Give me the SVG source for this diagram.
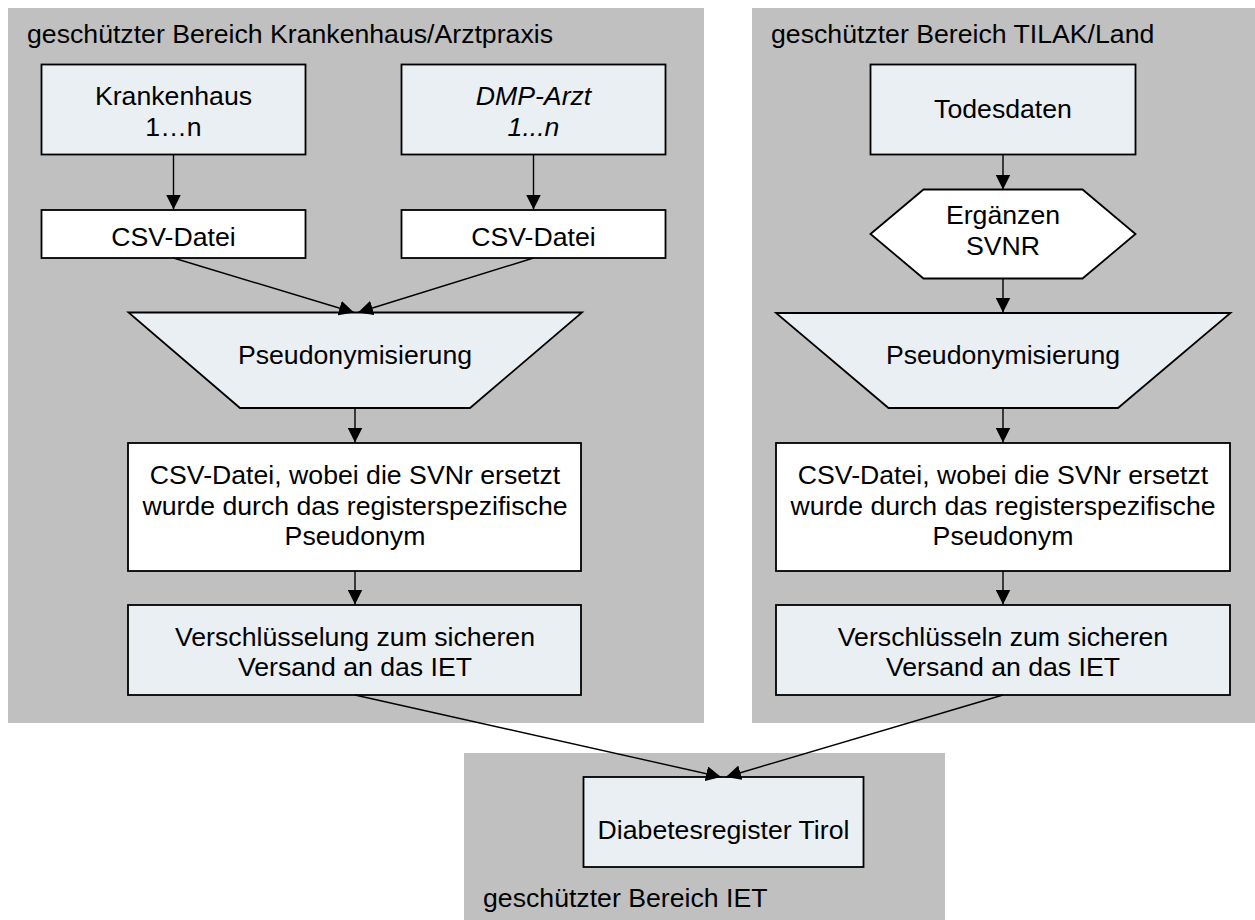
<svg xmlns="http://www.w3.org/2000/svg" width="1255" height="920" viewBox="0 0 1255 920">
<style>
.panel{fill:#c0c0c0;stroke:none}
.lt{fill:#eaeff3;stroke:#000;stroke-width:1.8}
.wh{fill:#ffffff;stroke:#000;stroke-width:1.8}
text{font-family:"Liberation Sans",Arial,sans-serif;font-size:26.67px;fill:#000}
.c{text-anchor:middle}
.it{font-style:italic}
.con line{stroke:#000;stroke-width:1.4;marker-end:url(#ah)}
</style>
<defs>
<marker id="ah" markerUnits="userSpaceOnUse" markerWidth="15" markerHeight="15" viewBox="0 0 15 15" refX="15" refY="7.5" orient="auto">
<path d="M0,0 L15,7.5 L0,15 z" fill="#000"/>
</marker>
</defs>
<g id="panel-krankenhaus">
<rect class="panel" x="8" y="8" width="696" height="715"/>
<text x="27" y="43">geschützter Bereich Krankenhaus/Arztpraxis</text>
</g>
<g id="panel-tilak">
<rect class="panel" x="752" y="8" width="503" height="715"/>
<text x="771" y="43">geschützter Bereich TILAK/Land</text>
</g>
<g id="panel-iet">
<rect class="panel" x="464" y="753" width="481" height="167"/>
<text x="483" y="907">geschützter Bereich IET</text>
</g>
<g id="krankenhaus">
<rect class="lt" x="41.5" y="64.5" width="264" height="90"/>
<text class="c" x="173.5" y="105">Krankenhaus</text>
<text class="c" x="173.5" y="136">1…n</text>
</g>
<g id="dmp-arzt">
<rect class="lt" x="401.5" y="64.5" width="264" height="90"/>
<text class="c it" x="533.5" y="105">DMP-Arzt</text>
<text class="c it" x="533.5" y="136">1...n</text>
</g>
<g id="csv-1">
<rect class="wh" x="41.5" y="210" width="264" height="48"/>
<text class="c" x="173.5" y="246">CSV-Datei</text>
</g>
<g id="csv-2">
<rect class="wh" x="401.5" y="210" width="264" height="48"/>
<text class="c" x="533.5" y="246">CSV-Datei</text>
</g>
<g id="pseudo-left">
<polygon class="lt" points="128.5,312.5 582,312.5 470,408 240,408"/>
<text class="c" x="355" y="364">Pseudonymisierung</text>
</g>
<g id="csv-pseudonym-left">
<rect class="wh" x="128" y="443" width="453" height="128"/>
<text class="c" x="355" y="483.5">CSV-Datei, wobei die SVNr ersetzt</text>
<text class="c" x="355" y="514.5">wurde durch das registerspezifische</text>
<text class="c" x="355" y="545">Pseudonym</text>
</g>
<g id="verschl-left">
<rect class="lt" x="128" y="605" width="453" height="90"/>
<text class="c" x="355" y="646">Verschlüsselung zum sicheren</text>
<text class="c" x="355" y="676">Versand an das IET</text>
</g>
<g id="todesdaten">
<rect class="lt" x="870.5" y="64.5" width="265" height="90"/>
<text class="c" x="1003" y="118">Todesdaten</text>
</g>
<g id="ergaenzen">
<polygon class="wh" points="870.5,234 923.5,189.5 1082.5,189.5 1135.5,234 1082.5,278.5 923.5,278.5"/>
<text class="c" x="1003" y="224">Ergänzen</text>
<text class="c" x="1003" y="255">SVNR</text>
</g>
<g id="pseudo-right">
<polygon class="lt" points="776,313 1230.5,313 1118,408 888.5,408"/>
<text class="c" x="1003" y="364">Pseudonymisierung</text>
</g>
<g id="csv-pseudonym-right">
<rect class="wh" x="776" y="443" width="454" height="128"/>
<text class="c" x="1003" y="483.5">CSV-Datei, wobei die SVNr ersetzt</text>
<text class="c" x="1003" y="514.5">wurde durch das registerspezifische</text>
<text class="c" x="1003" y="545">Pseudonym</text>
</g>
<g id="verschl-right">
<rect class="lt" x="776" y="605" width="454" height="90"/>
<text class="c" x="1003" y="646">Verschlüsseln zum sicheren</text>
<text class="c" x="1003" y="676">Versand an das IET</text>
</g>
<g id="diabetesregister">
<rect class="lt" x="583.5" y="777" width="280" height="90"/>
<text class="c" x="723.5" y="839">Diabetesregister Tirol</text>
</g>
<g id="connectors" class="con">
<line x1="173.5" y1="155" x2="173.5" y2="209.5"/>
<line x1="533.5" y1="155" x2="533.5" y2="209.5"/>
<line x1="173.5" y1="258" x2="354" y2="312.5"/>
<line x1="533.5" y1="258" x2="358" y2="312.5"/>
<line x1="355" y1="408" x2="355" y2="442.5"/>
<line x1="355" y1="571" x2="355" y2="604.5"/>
<line x1="1003" y1="155" x2="1003" y2="189.5"/>
<line x1="1003" y1="278.5" x2="1003" y2="312.5"/>
<line x1="1003" y1="408" x2="1003" y2="442.5"/>
<line x1="1003" y1="571" x2="1003" y2="604.5"/>
<line x1="355" y1="695" x2="721" y2="777"/>
<line x1="1003" y1="695" x2="726" y2="777"/>
</g>
</svg>
